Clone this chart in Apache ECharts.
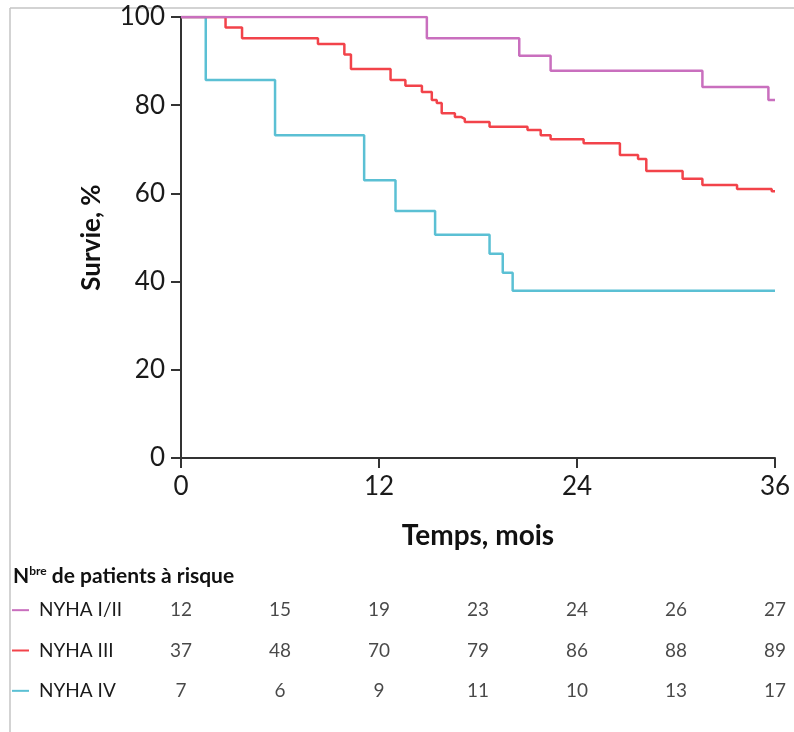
<!DOCTYPE html>
<html>
<head>
<meta charset="utf-8">
<script src="https://cdn.jsdelivr.net/npm/echarts@6/dist/echarts.min.js"></script>
<style>
  html, body { margin: 0; padding: 0; background: #fff; }
  #main { width: 794px; height: 732px; }
</style>
</head>
<body>
<div id="main"></div>
<script>
// survival curves, [month, % survival]
var nyha12 = [[0, 100], [14.9, 95.2], [20.5, 91.2], [22.4, 87.8], [31.6, 84.1], [35.6, 81.2], [36, 81.2]];
var nyha3 = [[0, 100], [2.7, 97.6], [3.7, 95.2], [8.3, 93.9], [9.9, 91.5], [10.3, 88.2], [12.7, 85.7],
  [13.6, 84.4], [14.6, 83.0], [15.2, 81.2], [15.5, 80.5], [15.8, 78.2], [16.6, 77.3], [17.0, 76.9],
  [17.2, 76.2], [18.7, 75.1], [21.0, 74.4], [21.8, 73.2], [22.4, 72.3], [24.4, 71.4], [26.6, 68.7],
  [27.7, 67.8], [28.2, 65.1], [30.4, 63.3], [31.6, 61.9], [33.7, 61.0], [35.8, 60.5], [36, 60.5]];
var nyha4 = [[0, 100], [1.5, 85.7], [5.7, 73.2], [11.1, 63.0], [13.0, 56.0], [15.4, 50.6], [18.7, 46.3],
  [19.5, 42.0], [20.1, 37.9], [36, 37.9]];

// number at risk table
var riskMonths = [0, 6, 12, 18, 24, 30, 36];
var groups = ['NYHA I/II', 'NYHA III', 'NYHA IV'];
var risk12 = [12, 15, 19, 23, 24, 26, 27];
var risk3 = [37, 48, 70, 79, 86, 88, 89];
var risk4 = [7, 6, 9, 11, 10, 13, 17];

var colors = ['#c96fbe', '#f2434a', '#5bc0d4'];
var font = 'Lato, "Open Sans", sans-serif';

var chart = echarts.init(document.getElementById('main'));

function riskSeries(name, counts) {
  return {
    type: 'scatter',
    xAxisIndex: 1,
    yAxisIndex: 1,
    symbolSize: 0,
    silent: true,
    data: riskMonths.map(function (m, i) { return [m, name, counts[i]]; }),
    label: {
      show: true,
      position: 'inside',
      formatter: function (p) { return p.value[2]; },
      fontFamily: font,
      fontSize: 19,
      color: '#1a1a1a'
    }
  };
}

var rich = { t: { fontFamily: font, fontSize: 19, color: '#1a1a1a', padding: [0, 0, 0, 10] } };
groups.forEach(function (g, i) {
  rich['c' + i] = { width: 17, height: 2, backgroundColor: colors[i] };
});

var option = {
  backgroundColor: '#fff',
  animation: false,
  title: {
    left: 8,
    top: 560,
    text: '{n|N}{s|bre}{t| de patients à risque}',
    textStyle: {
      rich: {
        n: { fontFamily: font, fontSize: 21, fontWeight: 'bold', color: '#111' },
        s: { fontFamily: font, fontSize: 12, fontWeight: 'bold', color: '#111', padding: [0, 0, 10, 0] },
        t: { fontFamily: font, fontSize: 21, fontWeight: 'bold', color: '#111' }
      }
    }
  },
  graphic: [
    { type: 'line', shape: { x1: 10, y1: 8, x2: 794, y2: 8 }, style: { stroke: '#c4c4c4', lineWidth: 1.5 } },
    { type: 'line', shape: { x1: 10, y1: 8, x2: 10, y2: 732 }, style: { stroke: '#c4c4c4', lineWidth: 1.5 } }
  ],
  grid: [
    { left: 181, right: 19, top: 17, height: 441 },
    { left: 181, right: 19, top: 590, height: 121 }
  ],
  xAxis: [
    {
      type: 'value', min: 0, max: 36, interval: 12,
      name: 'Temps, mois', nameLocation: 'middle', nameGap: 64,
      nameTextStyle: { fontFamily: font, fontSize: 28, fontWeight: 'bold', color: '#111' },
      axisLine: { lineStyle: { color: '#333', width: 2 } },
      axisTick: { length: 10, lineStyle: { color: '#333', width: 2 } },
      axisLabel: { margin: 16, fontFamily: font, fontSize: 26, color: '#1a1a1a' },
      splitLine: { show: false }
    },
    { type: 'value', gridIndex: 1, min: 0, max: 36, show: false }
  ],
  yAxis: [
    {
      type: 'value', min: 0, max: 100, interval: 20,
      name: 'Survie, %', nameLocation: 'middle', nameGap: 76,
      nameTextStyle: { fontFamily: font, fontSize: 26, fontWeight: 'bold', color: '#111' },
      axisLine: { show: true, lineStyle: { color: '#333', width: 2 } },
      axisTick: { show: true, length: 10, lineStyle: { color: '#333', width: 2 } },
      axisLabel: { margin: 16, fontFamily: font, fontSize: 26, color: '#1a1a1a' },
      splitLine: { show: false }
    },
    {
      type: 'category', gridIndex: 1, inverse: true, data: groups,
      axisLine: { show: false }, axisTick: { show: false }, splitLine: { show: false },
      axisLabel: {
        align: 'left', margin: 169,
        formatter: function (v) { return '{c' + groups.indexOf(v) + '|}{t|' + v + '}'; },
        rich: rich
      }
    }
  ],
  series: [
    { name: groups[2], type: 'line', step: 'end', showSymbol: false, data: nyha4,
      lineStyle: { color: colors[2], width: 2.5 }, itemStyle: { color: colors[2] } },
    { name: groups[1], type: 'line', step: 'end', showSymbol: false, data: nyha3,
      lineStyle: { color: colors[1], width: 2.5 }, itemStyle: { color: colors[1] } },
    { name: groups[0], type: 'line', step: 'end', showSymbol: false, data: nyha12,
      lineStyle: { color: colors[0], width: 2.5 }, itemStyle: { color: colors[0] } },
    riskSeries(groups[0], risk12),
    riskSeries(groups[1], risk3),
    riskSeries(groups[2], risk4)
  ]
};

chart.setOption(option);
window.addEventListener('resize', chart.resize);
</script>
</body>
</html>
